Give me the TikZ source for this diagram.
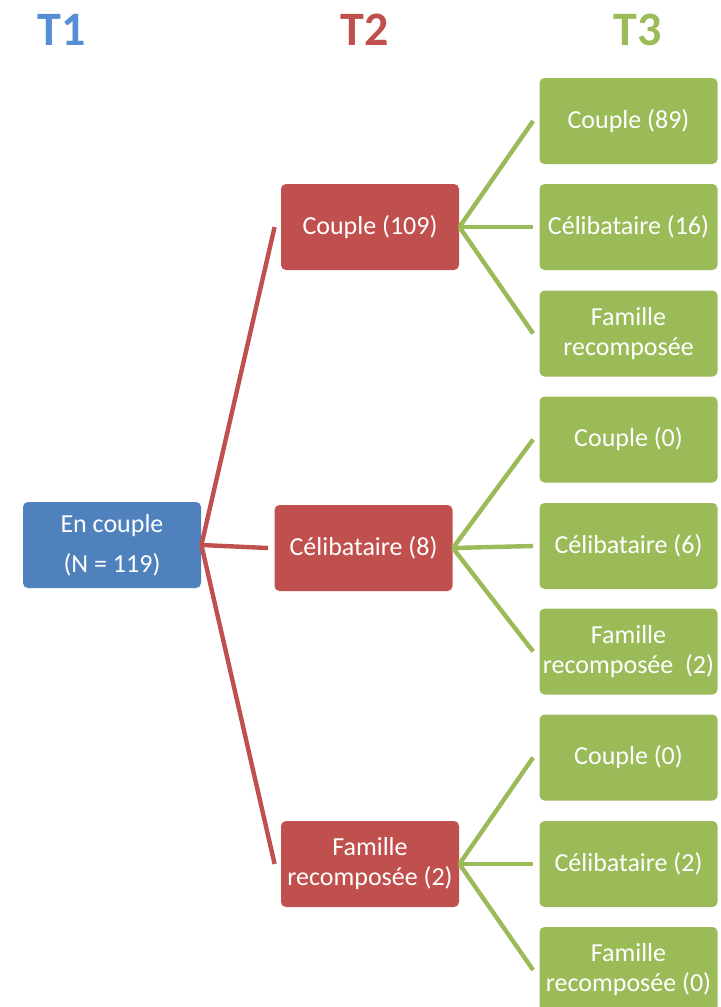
\documentclass[tikz,border=0pt]{standalone}
\usepackage{fontspec}
\setmainfont{Carlito}
\definecolor{tblue}{HTML}{4F81BD}
\definecolor{tred}{HTML}{C0504D}
\definecolor{tgreen}{HTML}{9BBB59}
\definecolor{headblue}{HTML}{558ED5}
\begin{document}
\begin{tikzpicture}[x=0.5pt, y=-0.5pt,
  box/.style={rounded corners=2.5pt, minimum width=89pt, minimum height=43pt, inner sep=1pt, align=center, text=white, font=\fontsize{13}{15}\selectfont},
  head/.style={font=\fontsize{24}{24}\selectfont\bfseries},
  link/.style={line width=2.2pt}]
  \clip (0,0) rectangle (720,1007);
  % column titles
  \node[head, text=headblue] (h1) at (62,30) {T1};
  \node[head, text=tred] (h2) at (365,30) {T2};
  \node[head, text=tgreen] (h3) at (638,30) {T3};
  % T1
  \node[box, fill=tblue] (root) at (112,545) {En couple\\[5pt](N = 119)};
  % T2
  \node[box, fill=tred] (a1) at (370,227) {Couple (109)};
  \node[box, fill=tred] (a2) at (363.5,548) {Célibataire (8)};
  \node[box, fill=tred] (a3) at (370,864) {Famille\\recomposée (2)};
  % T3
  \node[box, fill=tgreen] (b11) at (628.5,121) {Couple (89)};
  \node[box, fill=tgreen] (b12) at (628.5,227) {Célibataire (16)};
  \node[box, fill=tgreen] (b13) at (628.5,333.5) {Famille\\recomposée};
  \node[box, fill=tgreen] (b21) at (628.5,439.5) {Couple (0)};
  \node[box, fill=tgreen] (b22) at (628.5,546) {Célibataire (6)};
  \node[box, fill=tgreen] (b23) at (628.5,651.5) {Famille\\recomposée\ \ (2)};
  \node[box, fill=tgreen] (b31) at (628.5,757.5) {Couple (0)};
  \node[box, fill=tgreen] (b32) at (628.5,864) {Célibataire (2)};
  \node[box, fill=tgreen] (b33) at (628.5,970) {Famille\\recomposée (0)};
  % connectors
  \foreach \c in {a1,a2,a3}
    \draw[link, tred] (root.east) -- ([xshift=-3pt]\c.west);
  \foreach \p in {1,2,3}
    \foreach \c in {1,2,3}
      \draw[link, tgreen] (a\p.east) -- ([xshift=-3pt]b\p\c.west);
\end{tikzpicture}
\end{document}
